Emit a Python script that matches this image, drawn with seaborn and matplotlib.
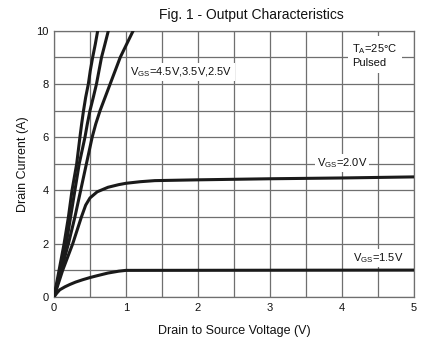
import numpy as np
import pandas as pd
import matplotlib
matplotlib.use("Agg")
import matplotlib.pyplot as plt
import seaborn as sns

# Drain current (A) vs drain-source voltage (V) for each gate drive
vds_45 = [0, 0.14, 0.20, 0.25, 0.315, 0.36, 0.384, 0.41, 0.44, 0.477, 0.504,
          0.537, 0.574, 0.607]
id_45 = [0, 2, 3, 4, 5, 6, 6.5, 7, 7.5, 8, 8.5, 9, 9.5, 10]

vds_35 = [0, 0.17, 0.23, 0.29, 0.35, 0.43, 0.463, 0.50, 0.546, 0.59, 0.625,
          0.66, 0.708, 0.755]
id_35 = [0, 2, 3, 4, 5, 6, 6.5, 7, 7.5, 8, 8.5, 9, 9.5, 10]

vds_25 = [0, 0.20, 0.29, 0.37, 0.45, 0.53, 0.58, 0.64, 0.71, 0.78, 0.85,
          0.92, 1.01, 1.10]
id_25 = [0, 2, 3, 4, 5, 6, 6.5, 7, 7.5, 8, 8.5, 9, 9.5, 10]

vds_20 = [0, 0.06, 0.12, 0.19, 0.26, 0.32, 0.38, 0.44, 0.50, 0.60, 0.75,
          0.90, 1.00, 1.20, 1.40, 2.0, 3.0, 4.0, 5.0]
id_20 = [0, 0.5, 1.0, 1.5, 2.0, 2.5, 3.0, 3.45, 3.72, 3.95, 4.12,
         4.22, 4.27, 4.33, 4.37, 4.40, 4.44, 4.47, 4.51]

vds_15 = [0, 0.04, 0.08, 0.15, 0.22, 0.30, 0.40, 0.50, 0.60, 0.75, 0.90,
          1.00, 5.0]
id_15 = [0, 0.15, 0.27, 0.38, 0.47, 0.56, 0.65, 0.73, 0.80, 0.90, 0.97,
         1.00, 1.01]

x_ticks = [0, 1, 2, 3, 4, 5]
y_ticks = [0, 2, 4, 6, 8, 10]

curves = {
    "4.5V": (vds_45, id_45),
    "3.5V": (vds_35, id_35),
    "2.5V": (vds_25, id_25),
    "2.0V": (vds_20, id_20),
    "1.5V": (vds_15, id_15),
}
df = pd.concat(
    [pd.DataFrame({"vds": x, "id": y, "vgs": k}) for k, (x, y) in curves.items()],
    ignore_index=True,
)

sns.set_theme(style="white")
plt.rcParams["font.family"] = ["Liberation Sans", "DejaVu Sans"]
plt.rcParams["mathtext.fontset"] = "custom"
plt.rcParams["mathtext.rm"] = "Liberation Sans"
plt.rcParams["mathtext.it"] = "Liberation Sans:italic"
plt.rcParams["mathtext.bf"] = "Liberation Sans:bold"

fig = plt.figure(figsize=(4.41, 3.44), dpi=100)
ax = fig.add_axes([54 / 441, 1 - 297 / 344, 360 / 441, (297 - 30.7) / 344])

sns.lineplot(
    data=df, x="vds", y="id", hue="vgs", units="vgs", estimator=None,
    sort=False, palette=["#1a1a1a"] * len(curves), linewidth=2.2,
    legend=False, ax=ax, zorder=3,
)
for ln in ax.lines:
    ln.set_solid_joinstyle("round")
    ln.set_solid_capstyle("round")

ax.set_xlim(0, 5)
ax.set_ylim(0, 10)
ax.set_xticks(x_ticks)
ax.set_yticks(y_ticks)
ax.set_xticks(np.arange(0, 5.01, 0.5), minor=True)
ax.set_yticks(np.arange(0, 10.01, 1), minor=True)
ax.grid(which="both", color="#6f6f6f", linewidth=0.9)
ax.set_axisbelow(True)
ax.tick_params(axis="both", which="both", length=0, labelsize=8,
               colors="#111111", pad=4)
for s in ax.spines.values():
    s.set_color("#6f6f6f")
    s.set_linewidth(0.9)

ax.set_xlabel("Drain to Source Voltage (V)", fontsize=9, labelpad=9,
              color="#111111")
ax.set_ylabel("Drain Current (A)", fontsize=9, labelpad=5, color="#111111")

fig.text(251.5 / 441, 1 - 14.5 / 344, "Fig. 1 - Output Characteristics",
         ha="center", va="center", fontsize=10, color="#111111")

box = dict(facecolor="white", edgecolor="none", pad=1.5)
ax.text(1.06, 8.46, r"V$_\mathrm{GS}$=4.5V,3.5V,2.5V", fontsize=8,
        va="center", ha="left", bbox=box, zorder=4, color="#111111")
ax.text(3.65, 5.02, r"V$_\mathrm{GS}$=2.0V", fontsize=8,
        va="center", ha="left", bbox=box, zorder=4, color="#111111")
ax.text(4.15, 1.47, r"V$_\mathrm{GS}$=1.5V", fontsize=8,
        va="center", ha="left", bbox=box, zorder=4, color="#111111")
ax.text(4.14, 9.08, "T$_\\mathrm{A}$=25°C\nPulsed", fontsize=8,
        va="center", ha="left", bbox=dict(facecolor="white", edgecolor="none",
                                          pad=3), zorder=4, color="#111111",
        linespacing=1.3)

fig.savefig("out.png", dpi=100)
